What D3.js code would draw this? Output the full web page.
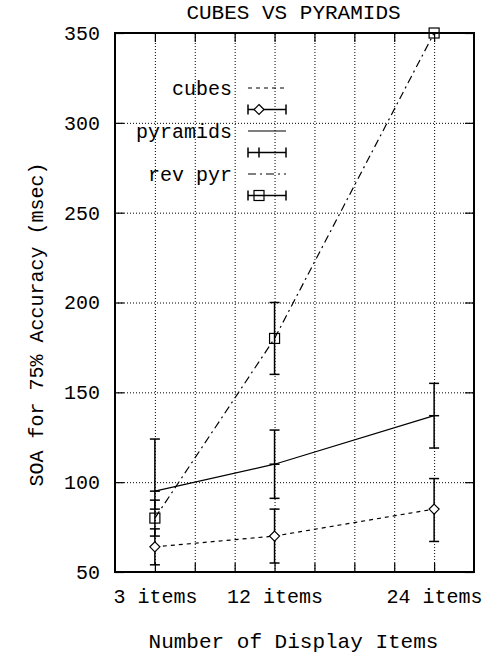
<!DOCTYPE html>
<html>
<head>
<meta charset="utf-8">
<script src="https://cdn.jsdelivr.net/npm/d3@7"></script>
<style>
  html, body { margin: 0; padding: 0; background: #fff; }
  svg { display: block; }
  text { font-family: "Liberation Mono", "DejaVu Sans Mono", monospace; fill: #000; }
</style>
</head>
<body>
<script>
// ---- data ----
const categories = [3, 12, 24];
const xTickLabels = ["3 items", "12 items", "24 items"];
const xTickValues = [3, 6, 9, 12, 15, 18, 21, 24];
const yTickValues = [50, 100, 150, 200, 250, 300, 350];

const seriesNames = ["cubes", "pyramids", "rev pyr"];
const cubesMean = [64, 70, 85];
const cubesLow  = [54, 55, 67];
const cubesHigh = [74, 85, 102];
const pyramidsMean = [95, 110, 137];
const pyramidsLow  = [85, 91, 119];
const pyramidsHigh = [124, 129, 155];
const revPyrMean = [80, 180, 350];
const revPyrLow  = [70, 160, 350];
const revPyrHigh = [90, 200, 350];

const titleText = "CUBES VS PYRAMIDS";
const xAxisTitle = "Number of Display Items";
const yAxisTitle = "SOA for 75% Accuracy (msec)";

// ---- layout ----
const W = 492, H = 657;
const L = 115, R = 474, T = 33, B = 572;
const FS = 20;

const svg = d3.select("body").append("svg").attr("width", W).attr("height", H);

const x = d3.scaleLinear().domain([0, 27]).range([L, R]);
const y = d3.scaleLinear().domain([50, 350]).range([B, T]);

// clip
svg.append("defs").append("clipPath").attr("id", "clip")
  .append("rect").attr("x", L).attr("y", T).attr("width", R - L).attr("height", B - T);

// gridlines
const gridY = svg.append("g").attr("transform", `translate(${L},0)`)
  .call(d3.axisLeft(y).tickValues(yTickValues.filter(v => v > 50 && v < 350))
    .tickSize(-(R - L)).tickFormat(""));
const gridX = svg.append("g").attr("transform", `translate(0,${B})`)
  .call(d3.axisBottom(x).tickValues(xTickValues).tickSize(-(B - T)).tickFormat(""));
[gridY, gridX].forEach(g => {
  g.select(".domain").remove();
  g.selectAll("line").attr("stroke", "#000").attr("stroke-width", 1).attr("stroke-dasharray", "1,2");
});

// axes (inward ticks on all sides)
const labelOf = v => { const i = categories.indexOf(v); return i >= 0 ? xTickLabels[i] : ""; };
const axL = svg.append("g").attr("transform", `translate(${L},0)`)
  .call(d3.axisLeft(y).tickValues(yTickValues).tickSizeInner(-9).tickSizeOuter(0).tickPadding(15).tickFormat(d3.format("d")));
const axR = svg.append("g").attr("transform", `translate(${R},0)`)
  .call(d3.axisRight(y).tickValues(yTickValues).tickSizeInner(-9).tickSizeOuter(0).tickFormat(""));
const axB = svg.append("g").attr("transform", `translate(0,${B})`)
  .call(d3.axisBottom(x).tickValues(xTickValues).tickSizeInner(-9).tickSizeOuter(0).tickPadding(17).tickFormat(labelOf));
const axT = svg.append("g").attr("transform", `translate(0,${T})`)
  .call(d3.axisTop(x).tickValues(xTickValues).tickSizeInner(-9).tickSizeOuter(0).tickFormat(""));
[axL, axR, axB, axT].forEach(g => {
  g.select(".domain").remove();
  g.selectAll("line").attr("stroke", "#000").attr("stroke-width", 1.2);
  g.selectAll("text").attr("font-size", FS).attr("font-family", "Liberation Mono, monospace").attr("fill", "#000");
});

// border
svg.append("rect").attr("x", L).attr("y", T).attr("width", R - L).attr("height", B - T)
  .attr("fill", "none").attr("stroke", "#000").attr("stroke-width", 2);

// titles
svg.append("text").attr("x", (L + R) / 2 - 1).attr("y", 19).attr("text-anchor", "middle")
  .attr("font-size", 21).text(titleText);
svg.append("text").attr("x", (L + R) / 2 - 1).attr("y", 648).attr("text-anchor", "middle")
  .attr("font-size", 21).text(xAxisTitle);
svg.append("text").attr("transform", `translate(43,${(T + B) / 2 + 22}) rotate(-90)`)
  .attr("text-anchor", "middle").attr("font-size", FS).text(yAxisTitle);

// series
const series = [
  { name: seriesNames[0], mean: cubesMean, low: cubesLow, high: cubesHigh, dash: "4,4", marker: "diamond" },
  { name: seriesNames[1], mean: pyramidsMean, low: pyramidsLow, high: pyramidsHigh, dash: null, marker: "plus" },
  { name: seriesNames[2], mean: revPyrMean, low: revPyrLow, high: revPyrHigh, dash: "8,4,2,4", marker: "square" }
];

const plot = svg.append("g").attr("clip-path", "url(#clip)");
const line = d3.line().x(d => x(d[0])).y(d => y(d[1]));
const CAP = 5, MK = 5;

function drawMarker(g, m, cx, cy) {
  if (m === "diamond") {
    g.append("path").attr("d", `M${cx},${cy - MK}L${cx + MK},${cy}L${cx},${cy + MK}L${cx - MK},${cy}Z`)
      .attr("fill", "#fff").attr("stroke", "#000").attr("stroke-width", 1.2);
  } else if (m === "square") {
    g.append("rect").attr("x", cx - MK).attr("y", cy - MK).attr("width", 2 * MK).attr("height", 2 * MK)
      .attr("fill", "none").attr("stroke", "#000").attr("stroke-width", 1.2);
  } else if (m === "plus") {
    g.append("line").attr("x1", cx - MK).attr("x2", cx + MK).attr("y1", cy).attr("y2", cy)
      .attr("stroke", "#000").attr("stroke-width", 1.5);
  }
}

series.forEach(s => {
  const pts = categories.map((c, i) => [c, s.mean[i]]);
  plot.append("path").attr("d", line(pts)).attr("fill", "none").attr("stroke", "#000")
    .attr("stroke-width", 1.2).attr("stroke-dasharray", s.dash);
  categories.forEach((c, i) => {
    const cx = x(c);
    if (s.low[i] !== s.high[i]) {
      plot.append("line").attr("x1", cx).attr("x2", cx).attr("y1", y(s.low[i])).attr("y2", y(s.high[i]))
        .attr("stroke", "#000").attr("stroke-width", 1.5);
      [s.low[i], s.high[i]].forEach(v => {
        plot.append("line").attr("x1", cx - CAP).attr("x2", cx + CAP).attr("y1", y(v)).attr("y2", y(v))
          .attr("stroke", "#000").attr("stroke-width", 1.5);
      });
    }
  });
});
const markG = svg.append("g");
series.forEach(s => {
  categories.forEach((c, i) => drawMarker(markG, s.marker, x(c), y(s.mean[i])));
});

// legend
const legend = svg.append("g");
const lgTextX = 232, lgX1 = 248, lgX2 = 286, lgPt = 259;
const rowY0 = 88, rowStep = 43;
series.forEach((s, k) => {
  const ry = rowY0 + k * rowStep;
  legend.append("text").attr("x", lgTextX).attr("y", ry).attr("dy", "0.35em")
    .attr("text-anchor", "end").attr("font-size", FS).text(s.name);
  legend.append("line").attr("x1", lgX1).attr("x2", lgX2).attr("y1", ry).attr("y2", ry)
    .attr("stroke", "#000").attr("stroke-width", 1.2).attr("stroke-dasharray", s.dash);
  const ey = ry + 21.5;
  legend.append("line").attr("x1", lgX1).attr("x2", lgX2).attr("y1", ey).attr("y2", ey)
    .attr("stroke", "#000").attr("stroke-width", 1.5);
  [lgX1, lgX2].forEach(xx => legend.append("line").attr("x1", xx).attr("x2", xx)
    .attr("y1", ey - CAP).attr("y2", ey + CAP).attr("stroke", "#000").attr("stroke-width", 1.5));
  if (s.marker === "plus") {
    legend.append("line").attr("x1", lgPt).attr("x2", lgPt).attr("y1", ey - MK).attr("y2", ey + MK)
      .attr("stroke", "#000").attr("stroke-width", 1.5);
  } else {
    drawMarker(legend, s.marker, lgPt, ey);
  }
});
</script>
</body>
</html>
